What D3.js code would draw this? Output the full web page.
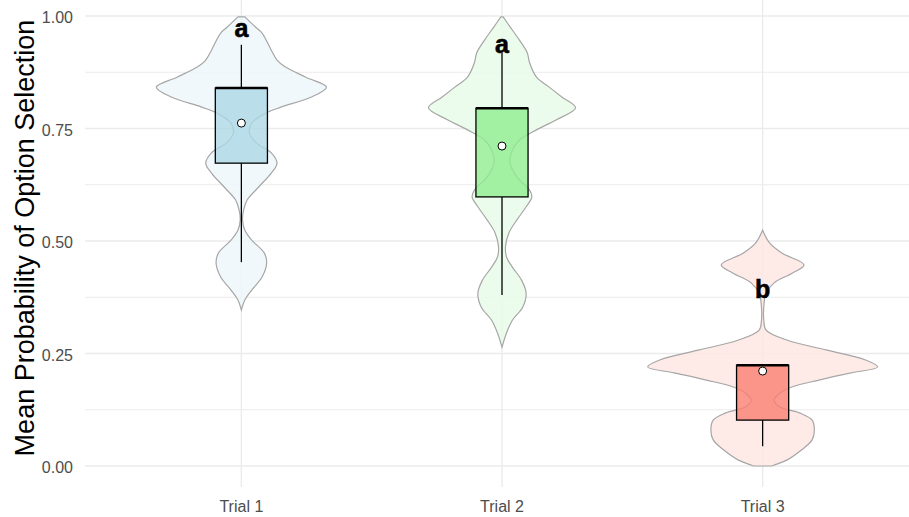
<!DOCTYPE html>
<html>
<head>
<meta charset="utf-8">
<script src="https://cdn.jsdelivr.net/npm/d3@7"></script>
<style>
	body { margin: 0; background: #fff; }
	svg { display: block; font-family: "Liberation Sans", Arial, sans-serif; }
</style>
</head>
<body>
<div id="chart"></div>
<script>

// categories
var trials = ["Trial 1", "Trial 2", "Trial 3"];

// box plot stats
var q1 = [0.673, 0.598, 0.102];
var medians = [0.840, 0.795, 0.224];
var q3 = [0.840, 0.795, 0.224];
var whiskerLow = [0.453, 0.380, 0.044];
var whiskerHigh = [0.936, 0.918, 0.224];
var means = [0.762, 0.711, 0.211];

// compact letter display
var letters = ["a", "a", "b"];
var letterPos = [0.953, 0.918, 0.373];

// violin outlines: [value, relative density]
var density1 = [[0.998,0.03],[0.976,0.12],[0.962,0.18],[0.924,0.26],[0.902,0.31],[0.887,0.38],[0.864,0.56],[0.842,0.74],[0.820,0.61],[0.798,0.35],[0.784,0.21],[0.762,0.09],[0.740,0.07],[0.718,0.13],[0.696,0.26],[0.673,0.31],[0.651,0.26],[0.620,0.15],[0.591,0.05],[0.569,0.02],[0.547,0.01],[0.524,0.03],[0.502,0.09],[0.473,0.20],[0.451,0.22],[0.420,0.18],[0.391,0.09],[0.369,0.03],[0.347,0.0]];
var density2 = [[0.998,0.01],[0.976,0.07],[0.947,0.15],[0.918,0.22],[0.896,0.24],[0.864,0.30],[0.842,0.41],[0.820,0.52],[0.796,0.64],[0.769,0.47],[0.747,0.30],[0.724,0.15],[0.702,0.09],[0.673,0.07],[0.642,0.13],[0.613,0.24],[0.598,0.26],[0.576,0.21],[0.547,0.13],[0.518,0.06],[0.487,0.03],[0.464,0.04],[0.442,0.09],[0.413,0.17],[0.384,0.21],[0.353,0.18],[0.324,0.09],[0.296,0.04],[0.264,0.0]];
var density3 = [[0.524,0.0],[0.496,0.06],[0.473,0.17],[0.447,0.36],[0.429,0.26],[0.407,0.10],[0.384,0.03],[0.353,0.01],[0.324,0.01],[0.302,0.03],[0.280,0.21],[0.258,0.55],[0.236,0.89],[0.220,1.0],[0.207,0.77],[0.191,0.49],[0.176,0.26],[0.162,0.15],[0.147,0.10],[0.131,0.15],[0.118,0.32],[0.102,0.43],[0.080,0.45],[0.058,0.43],[0.036,0.34],[0.013,0.21],[0.002,0.10],[0.0,0.08]];
var densities = [density1, density2, density3];

var yTicks = [0, 0.25, 0.5, 0.75, 1];
var yMinor = [0.125, 0.375, 0.625, 0.875];

var violinFill = ["#eff7fa", "#e9fce9", "#fee6e3"];
var boxFill = ["#add8e6", "#90ee90", "#fa8072"];

var width = 909, height = 517;
var panel = {left: 85, right: 919, top: -5, bottom: 487};

var svg = d3.select("#chart").append("svg")
	.attr("width", width)
	.attr("height", height);

var x = d3.scalePoint()
	.domain(trials)
	.range([panel.left, panel.right])
	.padding(0.6);

var y = d3.scaleLinear()
	.domain([0, 1])
	.range([466, 16]);

var w = d3.scaleLinear()
	.domain([0, 1])
	.range([0, 115]);

var boxHalf = x.step() * 0.1;

// grid
var grid = svg.append("g").attr("class", "grid");

grid.selectAll("line.minor")
	.data(yMinor)
	.enter().append("line")
		.attr("class", "minor")
		.attr("x1", panel.left).attr("x2", width)
		.attr("y1", function(d) { return y(d); })
		.attr("y2", function(d) { return y(d); })
		.attr("stroke", "#ebebeb")
		.attr("stroke-width", 1);

grid.selectAll("line.major")
	.data(yTicks)
	.enter().append("line")
		.attr("class", "major")
		.attr("x1", panel.left).attr("x2", width)
		.attr("y1", function(d) { return y(d); })
		.attr("y2", function(d) { return y(d); })
		.attr("stroke", "#ebebeb")
		.attr("stroke-width", 1.4);

grid.selectAll("line.vert")
	.data(trials)
	.enter().append("line")
		.attr("class", "vert")
		.attr("x1", function(d) { return x(d); })
		.attr("x2", function(d) { return x(d); })
		.attr("y1", 0).attr("y2", panel.bottom)
		.attr("stroke", "#ebebeb")
		.attr("stroke-width", 1.4);

// violins
var violins = svg.append("g").attr("class", "violins");

trials.forEach(function(t, i) {
	var cx = x(t);
	var area = d3.area()
		.y(function(d) { return y(d[0]); })
		.x0(function(d) { return cx - w(d[1]); })
		.x1(function(d) { return cx + w(d[1]); })
		.curve(d3.curveCatmullRom);
	violins.append("path")
		.datum(densities[i])
		.attr("d", area)
		.attr("fill", violinFill[i])
		.attr("fill-opacity", 0.85)
		.attr("stroke", "#a6a6a6")
		.attr("stroke-width", 1.2);
});

// boxes
var boxes = svg.append("g").attr("class", "boxes");

trials.forEach(function(t, i) {
	var cx = x(t);
	boxes.append("line")
		.attr("x1", cx).attr("x2", cx)
		.attr("y1", y(q3[i])).attr("y2", y(whiskerHigh[i]))
		.attr("stroke", "#000").attr("stroke-width", 1.3);
	boxes.append("line")
		.attr("x1", cx).attr("x2", cx)
		.attr("y1", y(q1[i])).attr("y2", y(whiskerLow[i]))
		.attr("stroke", "#000").attr("stroke-width", 1.3);
	boxes.append("rect")
		.attr("x", cx - boxHalf)
		.attr("y", y(q3[i]))
		.attr("width", boxHalf * 2)
		.attr("height", y(q1[i]) - y(q3[i]))
		.attr("fill", boxFill[i])
		.attr("fill-opacity", 0.8)
		.attr("stroke", "#000")
		.attr("stroke-width", 1.3);
	boxes.append("line")
		.attr("x1", cx - boxHalf).attr("x2", cx + boxHalf)
		.attr("y1", y(medians[i])).attr("y2", y(medians[i]))
		.attr("stroke", "#000").attr("stroke-width", 2.6);
});

// means
svg.append("g").selectAll("circle")
	.data(means)
	.enter().append("circle")
		.attr("cx", function(d, i) { return x(trials[i]); })
		.attr("cy", function(d) { return y(d); })
		.attr("r", 4)
		.attr("fill", "#fff")
		.attr("stroke", "#000")
		.attr("stroke-width", 1);

// letters
svg.append("g").selectAll("text")
	.data(letters)
	.enter().append("text")
		.attr("x", function(d, i) { return x(trials[i]); })
		.attr("y", function(d, i) { return y(letterPos[i]); })
		.attr("text-anchor", "middle")
		.attr("font-size", 25)
		.attr("font-weight", "bold")
		.attr("fill", "#000")
		.attr("stroke", "#000")
		.attr("stroke-width", 0.6)
		.text(function(d) { return d; });

// axes labels
svg.append("g").selectAll("text")
	.data(yTicks)
	.enter().append("text")
		.attr("x", 73)
		.attr("y", function(d) { return y(d) + 7; })
		.attr("text-anchor", "end")
		.attr("font-size", 16)
		.attr("fill", "#4d4d4d")
		.text(function(d) { return d3.format(".2f")(d); });

svg.append("g").selectAll("text")
	.data(trials)
	.enter().append("text")
		.attr("x", function(d) { return x(d); })
		.attr("y", 512)
		.attr("text-anchor", "middle")
		.attr("font-size", 16)
		.attr("fill", "#4d4d4d")
		.text(function(d) { return d; });

svg.append("text")
	.attr("transform", "translate(34,238) rotate(-90)")
	.attr("text-anchor", "middle")
	.attr("font-size", 27)
	.attr("fill", "#000")
	.text("Mean Probability of Option Selection");

</script>
</body>
</html>
